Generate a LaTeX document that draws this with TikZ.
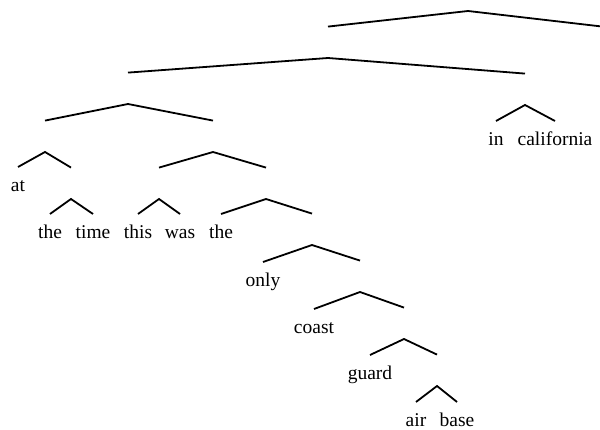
\documentclass[tikz,border=0pt]{standalone}
\usepackage{fontspec}
\setmainfont{Liberation Serif}

\begin{document}
\begin{tikzpicture}[x=1pt,y=-1pt,font=\fontsize{19.5}{22}\selectfont,
  fork/.style={anchor=south,minimum height=31pt,minimum width=0pt,inner sep=0pt},
  leaf/.style={anchor=north,inner sep=0pt,text height=24pt,text depth=5pt},
  br/.style={line width=1.8pt,line join=miter}]
\useasboundingbox (0,0) rectangle (600,430);
% internal nodes sit at their apex, leaves hang from the branch end
\node[fork] (s)   at (468,11)  {};
\coordinate (s2)  at (606,27);
\node[fork] (np)  at (328,58)  {};
\node[fork] (pp)  at (128,104) {};
\node[fork] (pc)  at (525,105) {};
\node[leaf] (in)  at (496,121) {in};
\node[leaf] (cal) at (555,121) {california};
\node[fork] (ppa) at (45,152)  {};
\node[leaf] (at)  at (18,167)  {at};
\node[fork] (tt)  at (71,199)  {};
\node[leaf] (the1) at (50,214) {the};
\node[leaf] (time) at (93,214) {time};
\node[fork] (cl)  at (213,152) {};
\node[fork] (tw)  at (159,199) {};
\node[leaf] (this) at (138,214) {this};
\node[leaf] (was) at (180,214) {was};
\node[fork] (dp)  at (266,199) {};
\node[leaf] (the2) at (221,214) {the};
\node[fork] (n1)  at (312,245) {};
\node[leaf] (only) at (263,262) {only};
\node[fork] (n2)  at (360,292) {};
\node[leaf] (coast) at (314,309) {coast};
\node[fork] (n3)  at (404,339) {};
\node[leaf] (guard) at (370,355) {guard};
\node[fork] (n4)  at (437,386) {};
\node[leaf] (air) at (416,402) {air};
\node[leaf] (base) at (457,402) {base};
% branches
\draw[br] (np.north) -- (s.south) -- (s2);
\foreach \p/\a/\b in {np/pp/pc, pp/ppa/cl, pc/in/cal, ppa/at/tt, tt/the1/time,
    cl/tw/dp, tw/this/was, dp/the2/n1, n1/only/n2, n2/coast/n3, n3/guard/n4, n4/air/base}
  \draw[br] (\a.north) -- (\p.south) -- (\b.north);
\end{tikzpicture}
\end{document}
